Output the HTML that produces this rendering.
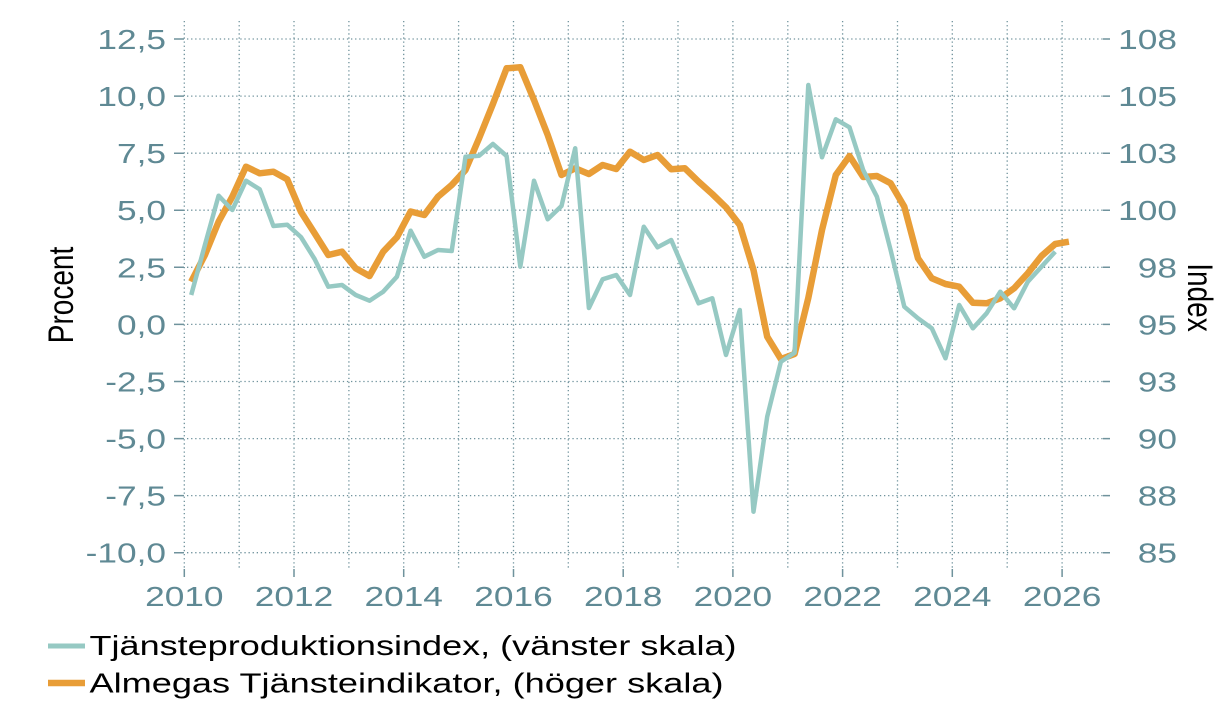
<!DOCTYPE html>
<html><head><meta charset="utf-8"><style>
html,body{margin:0;padding:0;background:#fff;}
svg{display:block;}
text{font-family:"Liberation Sans",Arial,sans-serif;}
.lab{font-size:28px;fill:#5f8994;}
.blk{font-size:28px;fill:#000;}
</style></head><body>
<svg width="1228" height="710" viewBox="0 0 1228 710" xmlns="http://www.w3.org/2000/svg">
<rect width="1228" height="710" fill="#fff"/>
<g stroke="#6f929c" stroke-width="1.3" stroke-dasharray="1.3 2.8" fill="none">
<path d="M187 39H1103M187 96.1H1103M187 153.2H1103M187 210.2H1103M187 267.3H1103M187 324.4H1103M187 381.5H1103M187 438.6H1103M187 495.6H1103M187 552.7H1103"/>
<path d="M184.3 21V569M239.2 21V569M294 21V569M348.9 21V569M403.7 21V569M458.6 21V569M513.5 21V569M568.3 21V569M623.2 21V569M678 21V569M732.9 21V569M787.8 21V569M842.6 21V569M897.5 21V569M952.3 21V569M1007.2 21V569M1062.1 21V569"/>
</g>
<g stroke="#6f929c" stroke-width="1.5" fill="none">
<path d="M174 39H184M174 96.1H184M174 153.2H184M174 210.2H184M174 267.3H184M174 324.4H184M174 381.5H184M174 438.6H184M174 495.6H184M174 552.7H184"/>
<path d="M1103 39H1110M1103 96.1H1110M1103 153.2H1110M1103 210.2H1110M1103 267.3H1110M1103 324.4H1110M1103 381.5H1110M1103 438.6H1110M1103 495.6H1110M1103 552.7H1110"/>
<path d="M184.3 569V577M294 569V577M403.7 569V577M513.5 569V577M623.2 569V577M732.9 569V577M842.6 569V577M952.3 569V577M1062.1 569V577"/>
</g>
<g class="lab" text-anchor="end">
<text transform="translate(166,49) scale(1.26,1)">12,5</text>
<text transform="translate(166,106.1) scale(1.26,1)">10,0</text>
<text transform="translate(166,163.2) scale(1.26,1)">7,5</text>
<text transform="translate(166,220.2) scale(1.26,1)">5,0</text>
<text transform="translate(166,277.3) scale(1.26,1)">2,5</text>
<text transform="translate(166,334.4) scale(1.26,1)">0,0</text>
<text transform="translate(166,391.5) scale(1.26,1)">-2,5</text>
<text transform="translate(166,448.6) scale(1.26,1)">-5,0</text>
<text transform="translate(166,505.6) scale(1.26,1)">-7,5</text>
<text transform="translate(166,562.7) scale(1.26,1)">-10,0</text>
<text transform="translate(1177,49) scale(1.26,1)">108</text>
<text transform="translate(1177,106.1) scale(1.26,1)">105</text>
<text transform="translate(1177,163.2) scale(1.26,1)">103</text>
<text transform="translate(1177,220.2) scale(1.26,1)">100</text>
<text transform="translate(1177,277.3) scale(1.26,1)">98</text>
<text transform="translate(1177,334.4) scale(1.26,1)">95</text>
<text transform="translate(1177,391.5) scale(1.26,1)">93</text>
<text transform="translate(1177,448.6) scale(1.26,1)">90</text>
<text transform="translate(1177,505.6) scale(1.26,1)">88</text>
<text transform="translate(1177,562.7) scale(1.26,1)">85</text>
</g>
<g class="lab" text-anchor="middle">
<text transform="translate(184.3,606) scale(1.26,1)">2010</text>
<text transform="translate(294,606) scale(1.26,1)">2012</text>
<text transform="translate(403.7,606) scale(1.26,1)">2014</text>
<text transform="translate(513.5,606) scale(1.26,1)">2016</text>
<text transform="translate(623.2,606) scale(1.26,1)">2018</text>
<text transform="translate(732.9,606) scale(1.26,1)">2020</text>
<text transform="translate(842.6,606) scale(1.26,1)">2022</text>
<text transform="translate(952.3,606) scale(1.26,1)">2024</text>
<text transform="translate(1062.1,606) scale(1.26,1)">2026</text>
</g>
<text class="blk" text-anchor="middle" transform="translate(73,295) scale(1.26,1) rotate(-90)">Procent</text>
<text class="blk" text-anchor="middle" transform="translate(1188,297.5) scale(1.26,1) rotate(90)">Index</text>
<polyline fill="none" stroke="#e89d37" stroke-width="6.5" stroke-linejoin="round" points="191.2,281.7 204.9,255 218.6,221.7 232.3,196.7 246,166.7 259.7,173.3 273.4,171.7 287.2,179.3 300.9,211.7 314.6,233.3 328.3,255 342,251.7 355.7,268.3 369.5,276 383.2,251.7 396.9,237.3 410.6,211.5 424.3,215 438,196.7 451.7,185 465.5,170 479.2,138 492.9,104 506.6,68.3 520.3,67.3 534,100 547.7,135 561.5,175 575.2,168.3 588.9,174 602.6,165 616.3,169 630,151.7 643.8,160 657.5,155 671.2,169.3 684.9,168.3 698.6,181.7 712.3,194 726,207.3 739.8,225 753.5,270 767.2,336.7 780.9,359 794.6,354 808.3,298 822,230 835.8,175 849.5,156 863.2,177 876.9,176 890.6,183.3 904.3,206.7 918,258.3 931.8,278.3 945.5,284 959.2,286.7 972.9,302.7 986.6,303.3 1000.3,298.3 1014.1,288.3 1027.8,273.3 1041.5,256 1055.2,244 1068.9,241.7"/>
<polyline fill="none" stroke="#96c9c3" stroke-width="4.5" stroke-linejoin="round" points="191.2,295 204.9,245 218.6,195.7 232.3,210 246,180.7 259.7,189.3 273.4,226 287.2,224.7 300.9,237 314.6,259 328.3,286.7 342,285 355.7,295 369.5,300.7 383.2,291.7 396.9,276.7 410.6,230.7 424.3,256.7 438,250 451.7,251 465.5,156.7 479.2,155.7 492.9,144 506.6,156 520.3,266.7 534,180.7 547.7,219.3 561.5,206 575.2,148.3 588.9,308 602.6,279.3 616.3,275 630,295 643.8,226.7 657.5,247.3 671.2,240 684.9,271.7 698.6,303.3 712.3,298.3 726,355 739.8,310 753.5,511.7 767.2,416.7 780.9,361.7 794.6,352.7 808.3,85 822,157.3 835.8,119.3 849.5,127.3 863.2,170 876.9,196.7 890.6,250 904.3,306.7 918,318.3 931.8,328.3 945.5,358.3 959.2,305 972.9,328.3 986.6,313.3 1000.3,291.7 1014.1,308.3 1027.8,281.7 1041.5,266.7 1055.2,251.7"/>
<line x1="48" y1="646" x2="85" y2="646" stroke="#96c9c3" stroke-width="5"/>
<line x1="48" y1="683" x2="85" y2="683" stroke="#e89d37" stroke-width="6.5"/>
<text class="blk" x="89.5" y="655" textLength="647" lengthAdjust="spacingAndGlyphs">Tjänsteproduktionsindex, (vänster skala)</text>
<text class="blk" x="89.5" y="692.7" textLength="634" lengthAdjust="spacingAndGlyphs">Almegas Tjänsteindikator, (höger skala)</text>
</svg>
</body></html>
